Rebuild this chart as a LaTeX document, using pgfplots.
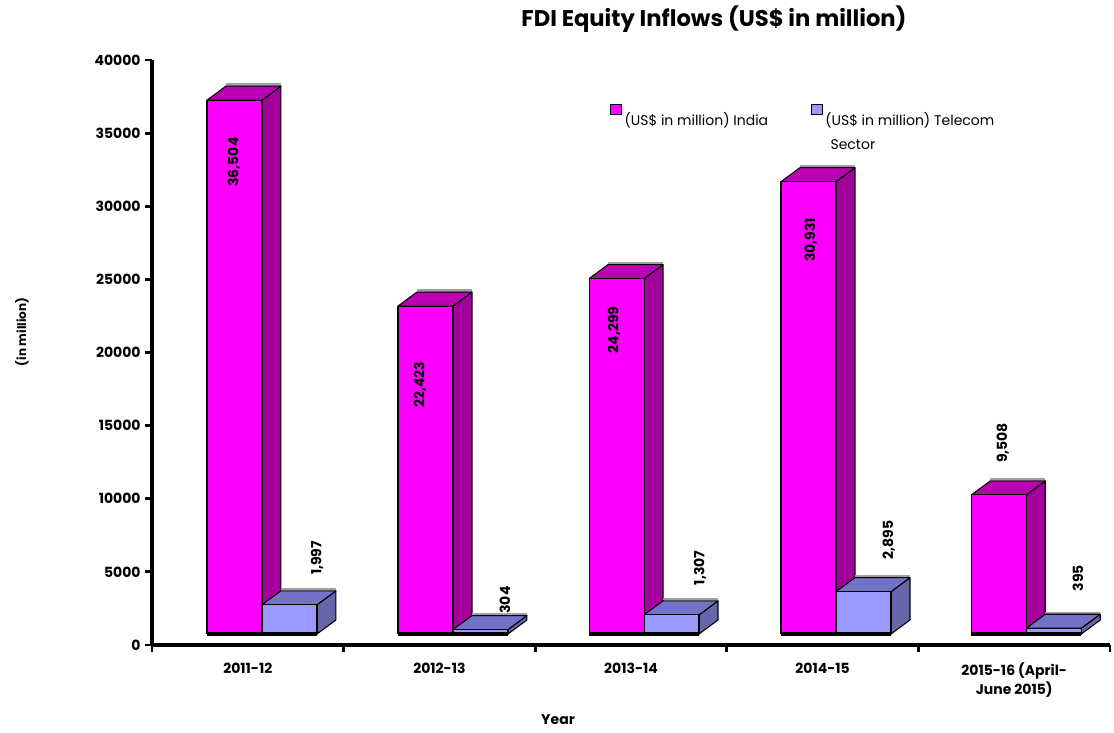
\documentclass[border=0pt]{standalone}
\usepackage{fontspec}
\setmainfont{Poppins}
\usepackage{pgfplots}
\pgfplotsset{compat=1.18}
\definecolor{indiaF}{HTML}{FF00FF}
\definecolor{indiaT}{HTML}{BC00B4}
\definecolor{indiaS}{HTML}{A3009C}
\definecolor{telF}{HTML}{9999FF}
\definecolor{telT}{HTML}{7272C6}
\definecolor{telS}{HTML}{6666A8}
\definecolor{shade}{HTML}{A0A0A0}

% one polygon, coordinates expanded first
\newcommand{\face}[2]{\edef\tmp{\noexpand\addplot[forget plot,line width=0.8pt,line join=round,#1] coordinates {#2};}\tmp}
% x of front left, value, front, top and side colour
\newcommand{\boxbar}[5]{%
  \pgfmathsetmacro\xa{#1}\pgfmathsetmacro\xb{#1+0.287}%
  \pgfmathsetmacro\xc{#1+0.386}\pgfmathsetmacro\xd{#1+0.099}%
  \edef\yb{752}\edef\yt{\the\numexpr#2+752\relax}%
  \edef\ybb{\the\numexpr752+957\relax}\edef\ytt{\the\numexpr#2+752+957\relax}%
  \edef\ysh{\the\numexpr#2+752+957+110\relax}%
  \face{draw=shade,line width=1.6pt}{(\xd,\ysh)(\xc,\ysh)}%
  \face{draw=black,fill=#5}{(\xb,\yb)(\xc,\ybb)(\xc,\ytt)(\xb,\yt)(\xb,\yb)}%
  \face{draw=black,fill=#4}{(\xa,\yt)(\xb,\yt)(\xc,\ytt)(\xd,\ytt)(\xa,\yt)}%
  \face{draw=black,fill=#3}{(\xa,\yb)(\xb,\yb)(\xb,\yt)(\xa,\yt)(\xa,\yb)}%
}
% one category: x of front left, India, Telecom
\newcommand{\group}[3]{%
  \boxbar{#1}{#2}{indiaF}{indiaT}{indiaS}%
  \pgfmathsetmacro\xt{#1+0.287}%
  \boxbar{\xt}{#3}{telF}{telT}{telS}%
  \pgfmathsetmacro\xe{#1+0.574}%
  \face{draw=black,line width=2.4pt}{(#1,752)(\xe,752)}%
}

\begin{document}
\begin{tikzpicture}
\useasboundingbox (0,0) rectangle (835.5pt,549pt);
\begin{axis}[
    at={(114pt,65.25pt)},
    anchor=origin,
    scale only axis,
    width=718.5pt,
    height=438.75pt,
    xmin=0, xmax=5,
    ymin=0, ymax=40000,
    clip=false,
    axis x line*=bottom,
    axis y line*=left,
    axis line style={-, line width=2.6pt},
    tick style={black, line width=2.2pt},
    tick align=outside,
    major tick length=5pt,
    xtick={0,1,2,3,4,5},
    xticklabels={},
    extra x ticks={0.5,1.5,2.5,3.5,4.5},
    extra x tick labels={2011-12,2012-13,2013-14,2014-15,{2015-16 (April-\\June 2015)}},
    extra x tick style={major tick length=0pt,
      tick label style={font=\bfseries\fontsize{10.5}{14}\selectfont, align=center, anchor=north, yshift=-10pt}},
    ytick={0,5000,10000,15000,20000,25000,30000,35000,40000},
    scaled y ticks=false,
    /pgf/number format/assume math mode=true,
    /pgf/number format/set thousands separator={},
    y tick label style={font=\bfseries\fontsize{10.5}{12}\selectfont},
    title={FDI Equity Inflows (US\$ in million)},
    title style={at={(axis description cs:0.5866,1.0564)}, anchor=center, font=\bfseries\fontsize{17}{20}\selectfont},
    xlabel={Year},
    xlabel style={at={(axis description cs:0.4238,-0.128)}, anchor=center, font=\bfseries\fontsize{10.5}{12}\selectfont},
    ylabel={(in million)},
    ylabel style={at={(axis description cs:-0.1357,0.535)}, anchor=center, font=\bfseries\fontsize{9}{11}\selectfont},
    legend columns=2,
    legend style={at={(axis description cs:0.478,0.926)}, anchor=north west, draw=none, fill=none,
      font=\fontsize{10.5}{18}\selectfont, inner sep=0pt,
      /tikz/every even column/.append style={column sep=30pt},
      cells={anchor=north west, align=left}},
]
\addlegendimage{legend image code/.code={\draw[line width=0.8pt,fill=indiaF] (0,-3.5pt) rectangle (8pt,4pt);}}
\addlegendentry{(US\$ in million) India}
\addlegendimage{legend image code/.code={\draw[line width=0.8pt,fill=telF] (0,-3.5pt) rectangle (8pt,4pt);}}
\addlegendentry{(US\$ in million) Telecom\\\hspace{4pt}Sector}

\group{0.287}{36504}{1997}
\group{1.284}{22423}{304}
\group{2.281}{24299}{1307}
\group{3.283}{30931}{2895}
\group{4.276}{9508}{395}

\begin{scope}[every node/.style={rotate=90, font=\bfseries\fontsize{10.5}{12}\selectfont}]
\node at (axis cs:0.428,33026) {36,504};
\node at (axis cs:1.399,17778) {22,423};
\node at (axis cs:2.411,21538) {24,299};
\node at (axis cs:3.439,27692) {30,931};
\node at (axis cs:4.441,13812) {9,508};
\node at (axis cs:0.861,5949) {1,997};
\node at (axis cs:1.842,3077) {304};
\node at (axis cs:2.860,5265) {1,307};
\node at (axis cs:3.846,7179) {2,895};
\node at (axis cs:4.833,4581) {395};
\end{scope}
\end{axis}
\end{tikzpicture}
\end{document}
